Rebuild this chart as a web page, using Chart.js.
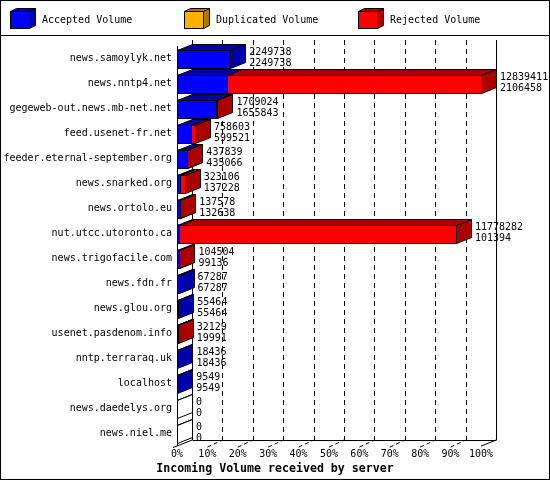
<!DOCTYPE html>
<html>
<head>
<meta charset="utf-8">
<title>Incoming Volume received by server</title>
<script src="https://cdn.jsdelivr.net/npm/chart.js@4.4.0/dist/chart.umd.min.js"></script>
<style>
    html, body { margin: 0; padding: 0; background: #fff; }
    #wrap { width: 550px; height: 480px; }
</style>
</head>
<body>
<div id="wrap"><canvas id="incomingChart"></canvas></div>
<script>
// Servers, top to bottom
const servers = [
    'news.samoylyk.net', 'news.nntp4.net', 'gegeweb-out.news.mb-net.net',
    'feed.usenet-fr.net', 'feeder.eternal-september.org', 'news.snarked.org',
    'news.ortolo.eu', 'nut.utcc.utoronto.ca', 'news.trigofacile.com',
    'news.fdn.fr', 'news.glou.org', 'usenet.pasdenom.info',
    'nntp.terraraq.uk', 'localhost', 'news.daedelys.org', 'news.niel.me'
];
// Upper number next to each bar
const totalVolume = [
    2249738, 12839411, 1709024, 758603, 437839, 323106, 137578, 11778282,
    104504, 67287, 55464, 32129, 18436, 9549, 0, 0
];
// Lower number next to each bar
const acceptedVolume = [
    2249738, 2106458, 1655843, 599521, 435066, 137228, 132638, 101394,
    99136, 67287, 55464, 19991, 18436, 9549, 0, 0
];
const duplicatedVolume = [0, 0, 0, 0, 0, 0, 0, 0, 0, 0, 0, 0, 0, 0, 0, 0];
const rejectedVolume = [
    0, 10732953, 53181, 159082, 2773, 185878, 4940, 11676888,
    5368, 0, 0, 12138, 0, 0, 0, 0
];
const tickPercents = [0, 10, 20, 30, 40, 50, 60, 70, 80, 90, 100];

const FONT = '"DejaVu Sans Mono", "Liberation Mono", monospace';
const DX = 15, DY = 6; // depth of the 3d boxes

// bars are drawn as percent of the biggest server
const maxTotal = Math.max(...totalVolume);
const pct = arr => arr.map(v => v / maxTotal * 100);

function crisp(v) { return Math.round(v) + 0.5; }

function drawBox(ctx, x0, x1, top, bot, front, dark) {
    ctx.lineWidth = 1;
    ctx.strokeStyle = '#000';
    ctx.setLineDash([]);
    // front face
    ctx.fillStyle = front;
    ctx.beginPath();
    ctx.rect(x0, top, x1 - x0, bot - top);
    ctx.fill();
    ctx.stroke();
    // top face
    ctx.fillStyle = dark;
    ctx.beginPath();
    ctx.moveTo(x0, top);
    ctx.lineTo(x0 + DX, top - DY);
    ctx.lineTo(x1 + DX, top - DY);
    ctx.lineTo(x1, top);
    ctx.closePath();
    ctx.fill();
    ctx.stroke();
    // right face
    ctx.beginPath();
    ctx.moveTo(x1, top);
    ctx.lineTo(x1 + DX, top - DY);
    ctx.lineTo(x1 + DX, bot - DY);
    ctx.lineTo(x1, bot);
    ctx.closePath();
    ctx.fill();
    ctx.stroke();
}

// back wall, floor and gridlines
const backWall = {
    id: 'backWall',
    beforeDatasetsDraw(chart) {
        const { ctx, chartArea: { left, right, top, bottom } } = chart;
        const xs = chart.scales.x;
        ctx.save();
        ctx.strokeStyle = '#000';
        ctx.lineWidth = 1;
        tickPercents.forEach(p => {
            const px = crisp(xs.getPixelForValue(p) + DX);
            ctx.setLineDash(p === 0 || p === 100 ? [] : [5, 4]);
            ctx.beginPath();
            ctx.moveTo(px, top - DY);
            ctx.lineTo(px, bottom - DY);
            ctx.stroke();
            if (p > 0 && p < 100) {
                const fx = xs.getPixelForValue(p);
                ctx.setLineDash([4, 3]);
                ctx.beginPath();
                ctx.moveTo(fx, bottom + 1);
                ctx.lineTo(fx + DX, bottom - DY);
                ctx.stroke();
            }
        });
        ctx.setLineDash([]);
        ctx.beginPath();
        ctx.moveTo(crisp(left + DX), crisp(bottom - DY));
        ctx.lineTo(crisp(right + DX), crisp(bottom - DY));
        ctx.moveTo(left - 4, bottom + 1.5);
        ctx.lineTo(left + DX, bottom - DY);
        ctx.moveTo(right, bottom);
        ctx.lineTo(right + DX, bottom - DY);
        ctx.moveTo(crisp(left), top);
        ctx.lineTo(crisp(left), bottom);
        ctx.stroke();
        ctx.restore();
    },
    afterDatasetsDraw(chart) {
        const { ctx } = chart;
        const sets = chart.data.datasets;
        ctx.save();
        servers.forEach((name, i) => {
            const first = chart.getDatasetMeta(0).data[i];
            const top = crisp(first.y - first.height / 2);
            const bot = crisp(first.y + first.height / 2);
            if (totalVolume[i] === 0) {
                const x0 = crisp(first.base);
                drawBox(ctx, x0, x0, top, bot, '#fff', '#fff');
            }
            sets.forEach((ds, d) => {
                if (!ds.data[i]) return;
                const el = chart.getDatasetMeta(d).data[i];
                drawBox(ctx, crisp(el.base), crisp(el.x), top, bot, ds.backgroundColor, ds.sideColor);
            });
            // the two numbers: total then accepted
            const end = chart.getDatasetMeta(sets.length - 1).data[i].x;
            ctx.fillStyle = '#000';
            ctx.font = '10px ' + FONT;
            ctx.textAlign = 'left';
            ctx.textBaseline = 'alphabetic';
            ctx.fillText(String(totalVolume[i]), end + DX + 4, first.y - 4);
            ctx.fillText(String(acceptedVolume[i]), end + DX + 4, first.y + 7);
        });
        ctx.restore();
    },
    afterDraw(chart) {
        const { ctx, width, height } = chart;
        ctx.save();
        // legend with small cubes
        chart.data.datasets.forEach((ds, k) => {
            const x = 10.5 + 174 * k, y = 11.5;
            ctx.lineWidth = 1;
            ctx.strokeStyle = '#000';
            ctx.fillStyle = ds.backgroundColor;
            ctx.fillRect(x, y, 19, 17);
            ctx.strokeRect(x, y, 19, 17);
            ctx.fillStyle = ds.sideColor;
            ctx.beginPath();
            ctx.moveTo(x, y);
            ctx.lineTo(x + 6, y - 3);
            ctx.lineTo(x + 25, y - 3);
            ctx.lineTo(x + 25, y + 14);
            ctx.lineTo(x + 19, y + 17);
            ctx.lineTo(x + 19, y);
            ctx.closePath();
            ctx.fill();
            ctx.stroke();
            ctx.beginPath();
            ctx.moveTo(x + 19, y);
            ctx.lineTo(x + 25, y - 3);
            ctx.stroke();
            ctx.fillStyle = '#000';
            ctx.font = '10px ' + FONT;
            ctx.textBaseline = 'middle';
            ctx.textAlign = 'left';
            ctx.fillText(ds.label, x + 31.5, 20.5);
        });
        // frame
        ctx.strokeStyle = '#000';
        ctx.lineWidth = 1;
        ctx.strokeRect(0.5, 0.5, width - 1, height - 1);
        ctx.beginPath();
        ctx.moveTo(0, 35.5);
        ctx.lineTo(width, 35.5);
        ctx.stroke();
        ctx.restore();
    }
};

const ctx = document.getElementById('incomingChart').getContext('2d');
new Chart(ctx, {
    type: 'bar',
    data: {
        labels: servers,
        datasets: [
            {
                label: 'Accepted Volume',
                data: pct(acceptedVolume),
                backgroundColor: '#0000ff',
                sideColor: '#0000aa'
            },
            {
                label: 'Duplicated Volume',
                data: pct(duplicatedVolume),
                backgroundColor: '#ffb000',
                sideColor: '#a87800'
            },
            {
                label: 'Rejected Volume',
                data: pct(rejectedVolume),
                backgroundColor: '#ff0000',
                sideColor: '#aa0000'
            }
        ]
    },
    options: {
        indexAxis: 'y',
        responsive: true,
        maintainAspectRatio: false,
        animation: false,
        events: [],
        layout: {
            padding: { top: 46, right: 0, left: 0, bottom: 0 }
        },
        datasets: {
            bar: { categoryPercentage: 1, barPercentage: 0.72, borderWidth: 0 }
        },
        plugins: {
            legend: { display: false },
            tooltip: { enabled: false },
            title: {
                display: true,
                position: 'bottom',
                text: 'Incoming Volume received by server',
                color: '#000',
                font: { family: FONT, size: 11.6, weight: 'bold' },
                padding: { top: 0, bottom: 4 }
            }
        },
        scales: {
            x: {
                stacked: true,
                min: 0,
                max: 100,
                grid: { display: false, drawTicks: false },
                border: { display: false },
                afterFit: scale => { scale.height = 16; },
                ticks: {
                    stepSize: 10,
                    autoSkip: false,
                    maxRotation: 0,
                    padding: 2,
                    color: '#000',
                    font: { family: FONT, size: 10 },
                    callback: v => v + '%'
                }
            },
            y: {
                stacked: true,
                grid: { display: false, drawTicks: false },
                border: { display: false },
                afterFit: scale => { scale.width = 177; },
                ticks: {
                    autoSkip: false,
                    padding: 5,
                    color: '#000',
                    font: { family: FONT, size: 10 }
                }
            },
            // empty strip on the right that holds the depth and the numbers
            numbers: {
                type: 'linear',
                position: 'right',
                grid: { display: false, drawTicks: false },
                border: { display: false },
                ticks: { display: false },
                afterFit: scale => { scale.width = 69; }
            }
        }
    },
    plugins: [backWall]
});
</script>
</body>
</html>
